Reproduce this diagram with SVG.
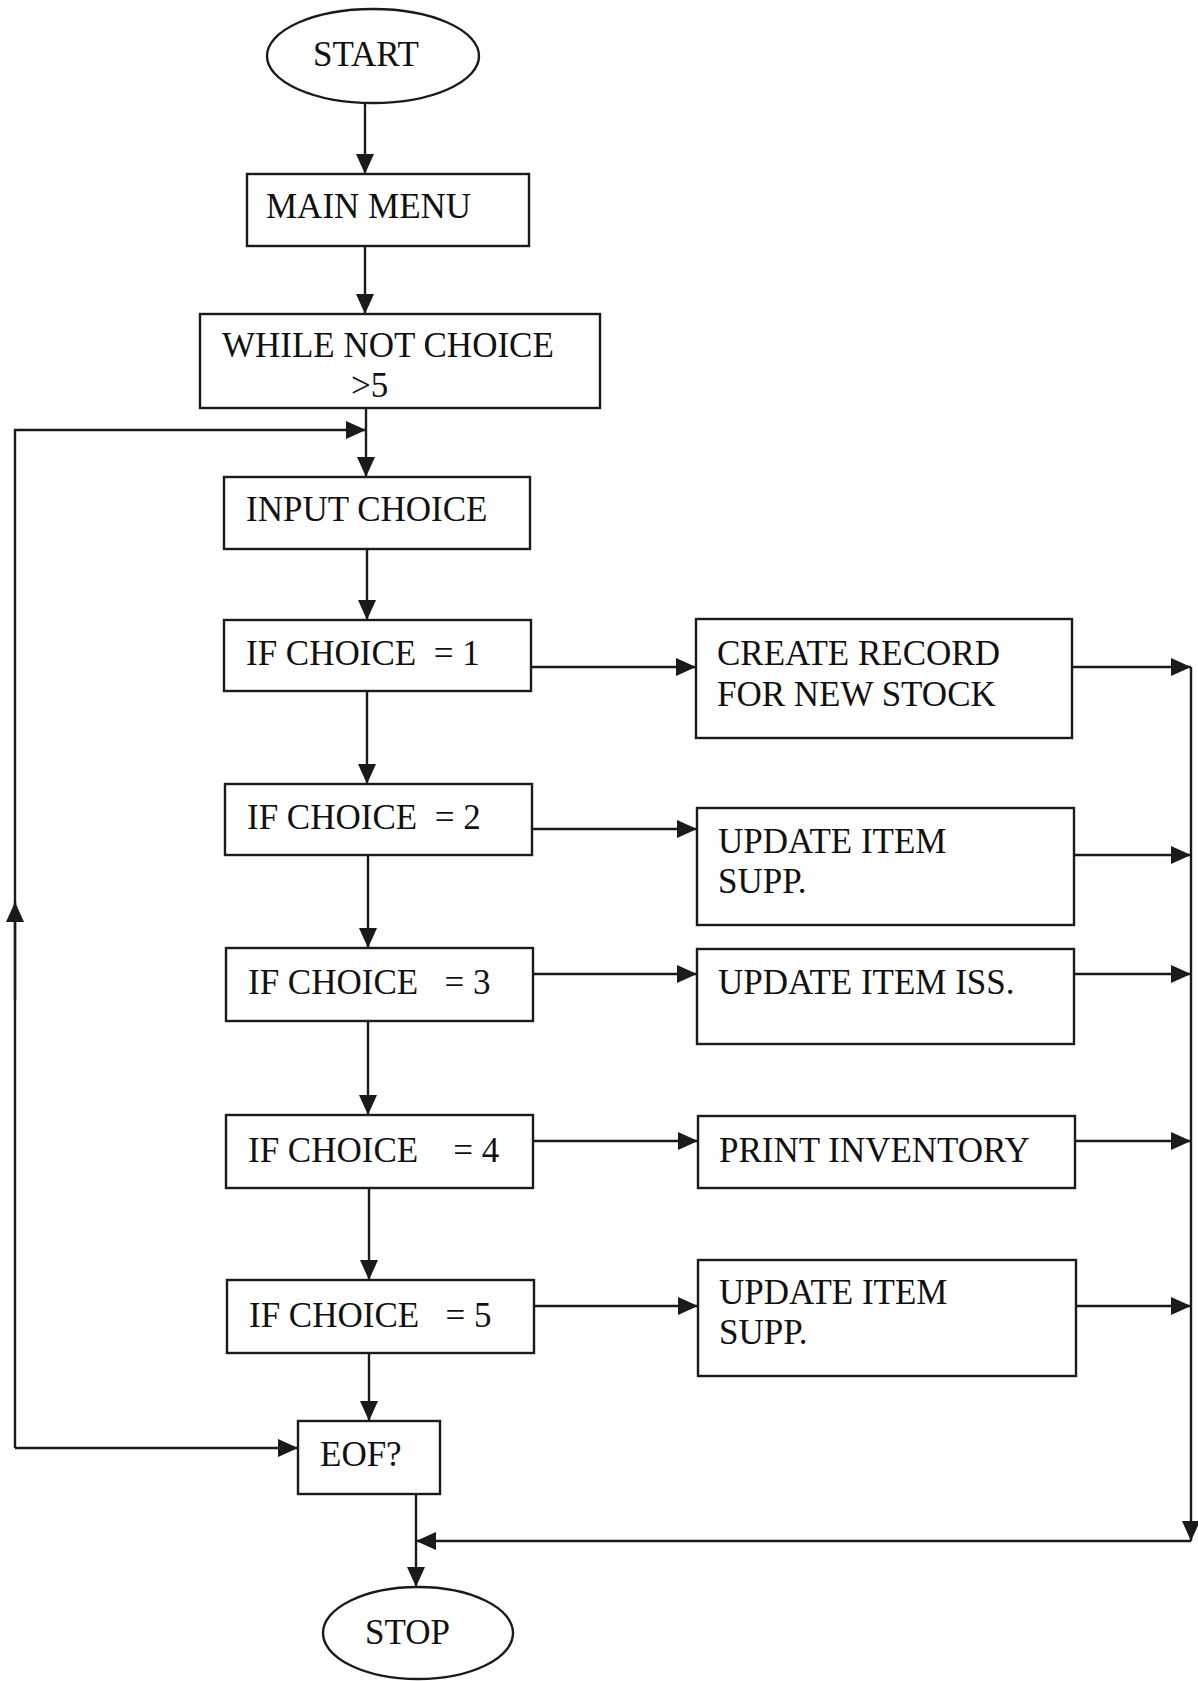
<svg xmlns="http://www.w3.org/2000/svg" width="1198" height="1681" viewBox="0 0 1198 1681">
<style>
.n{fill:#fff;stroke:#1a1a1a;stroke-width:2.4}
.t{font-family:"Liberation Serif","Times New Roman",serif;font-size:35px;fill:#111}
.c{fill:none;stroke:#1a1a1a;stroke-width:2.4}
</style>
<defs>
<marker id="ah" markerUnits="userSpaceOnUse" markerWidth="22" markerHeight="20" refX="20" refY="9" orient="auto">
<path d="M0,0 L20,9 L0,18 z" fill="#1a1a1a"/>
</marker>
</defs>
<rect width="1198" height="1681" fill="#fff"/>
<g id="connectors">
<line class="c" x1="365" y1="103" x2="365" y2="174" marker-end="url(#ah)"/>
<line class="c" x1="365" y1="246" x2="365" y2="314" marker-end="url(#ah)"/>
<line class="c" x1="366" y1="408" x2="366" y2="477" marker-end="url(#ah)"/>
<polyline class="c" points="15,1448 15,430 366,430" marker-end="url(#ah)"/>
<line class="c" x1="15" y1="1000" x2="15" y2="902" marker-end="url(#ah)"/>
<line class="c" x1="367" y1="549" x2="367" y2="620" marker-end="url(#ah)"/>
<line class="c" x1="367" y1="691" x2="367" y2="784" marker-end="url(#ah)"/>
<line class="c" x1="368" y1="855" x2="368" y2="948" marker-end="url(#ah)"/>
<line class="c" x1="368" y1="1021" x2="368" y2="1115" marker-end="url(#ah)"/>
<line class="c" x1="369" y1="1188" x2="369" y2="1280" marker-end="url(#ah)"/>
<line class="c" x1="369" y1="1353" x2="369" y2="1421" marker-end="url(#ah)"/>
<line class="c" x1="531" y1="667" x2="696" y2="667" marker-end="url(#ah)"/>
<line class="c" x1="532" y1="829" x2="697" y2="829" marker-end="url(#ah)"/>
<line class="c" x1="533" y1="974" x2="697" y2="974" marker-end="url(#ah)"/>
<line class="c" x1="533" y1="1141" x2="698" y2="1141" marker-end="url(#ah)"/>
<line class="c" x1="534" y1="1306" x2="698" y2="1306" marker-end="url(#ah)"/>
<line class="c" x1="1072" y1="667" x2="1191" y2="667" marker-end="url(#ah)"/>
<line class="c" x1="1074" y1="855" x2="1191" y2="855" marker-end="url(#ah)"/>
<line class="c" x1="1074" y1="974" x2="1191" y2="974" marker-end="url(#ah)"/>
<line class="c" x1="1075" y1="1141" x2="1191" y2="1141" marker-end="url(#ah)"/>
<line class="c" x1="1076" y1="1306" x2="1191" y2="1306" marker-end="url(#ah)"/>
<line class="c" x1="1191" y1="667" x2="1191" y2="1541" marker-end="url(#ah)"/>
<line class="c" x1="1191" y1="1541" x2="416" y2="1541" marker-end="url(#ah)"/>
<line class="c" x1="15" y1="1448" x2="298" y2="1448" marker-end="url(#ah)"/>
<line class="c" x1="416" y1="1494" x2="416" y2="1587" marker-end="url(#ah)"/>
</g>
<g id="start"><ellipse class="n" cx="373" cy="56" rx="106" ry="47"/><text class="t" x="313" y="66">START</text></g>
<g id="main-menu"><rect class="n" x="247" y="174" width="282" height="72"/><text class="t" x="266" y="218">MAIN MENU</text></g>
<g id="while"><rect class="n" x="200" y="314" width="400" height="94"/><text class="t" x="222" y="357">WHILE NOT CHOICE</text><text class="t" x="351" y="397">&gt;5</text></g>
<g id="input-choice"><rect class="n" x="224" y="477" width="306" height="72"/><text class="t" x="246" y="521">INPUT CHOICE</text></g>
<g id="if1"><rect class="n" x="224" y="620" width="307" height="71"/><text class="t" x="246" y="665" xml:space="preserve">IF CHOICE  = 1</text></g>
<g id="if2"><rect class="n" x="225" y="784" width="307" height="71"/><text class="t" x="247" y="829" xml:space="preserve">IF CHOICE  = 2</text></g>
<g id="if3"><rect class="n" x="226" y="948" width="307" height="73"/><text class="t" x="248" y="994" xml:space="preserve">IF CHOICE   = 3</text></g>
<g id="if4"><rect class="n" x="226" y="1115" width="307" height="73"/><text class="t" x="248" y="1162" xml:space="preserve">IF CHOICE    = 4</text></g>
<g id="if5"><rect class="n" x="227" y="1280" width="307" height="73"/><text class="t" x="249" y="1327" xml:space="preserve">IF CHOICE   = 5</text></g>
<g id="create-record"><rect class="n" x="696" y="619" width="376" height="119"/><text class="t" x="717" y="665">CREATE RECORD</text><text class="t" x="717" y="706">FOR NEW STOCK</text></g>
<g id="update-supp-1"><rect class="n" x="697" y="808" width="377" height="117"/><text class="t" x="718" y="853">UPDATE ITEM</text><text class="t" x="718" y="893">SUPP.</text></g>
<g id="update-iss"><rect class="n" x="697" y="949" width="377" height="95"/><text class="t" x="718" y="994">UPDATE ITEM ISS.</text></g>
<g id="print-inventory"><rect class="n" x="698" y="1116" width="377" height="72"/><text class="t" x="719" y="1162">PRINT INVENTORY</text></g>
<g id="update-supp-2"><rect class="n" x="698" y="1260" width="378" height="116"/><text class="t" x="719" y="1304">UPDATE ITEM</text><text class="t" x="719" y="1344">SUPP.</text></g>
<g id="eof"><rect class="n" x="298" y="1421" width="142" height="73"/><text class="t" x="320" y="1466">EOF?</text></g>
<g id="stop"><ellipse class="n" cx="418" cy="1633" rx="95" ry="46"/><text class="t" x="365" y="1644">STOP</text></g>
</svg>
